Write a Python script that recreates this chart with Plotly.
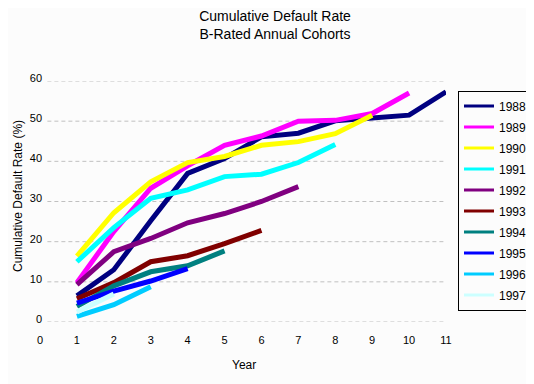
import plotly.graph_objects as go

years = [1, 2, 3, 4, 5, 6, 7, 8, 9, 10, 11]
cohorts = ["1988", "1989", "1990", "1991", "1992", "1993", "1994", "1995", "1996", "1997"]

rate_1988 = [6.5, 13.0, 25.2, 37.0, 40.7, 46.1, 47.0, 50.1, 50.8, 51.5, 57.3]
rate_1989 = [9.8, 22.5, 33.3, 38.9, 44.0, 46.3, 50.0, 50.2, 51.9, 57.0]
rate_1990 = [16.4, 27.2, 34.9, 39.7, 41.2, 44.0, 44.9, 46.9, 51.5]
rate_1991 = [15.0, 23.5, 30.8, 32.9, 36.2, 36.8, 39.7, 44.2]
rate_1992 = [9.3, 17.5, 20.8, 24.7, 27.0, 30.0, 33.7]
rate_1993 = [5.8, 9.8, 15.0, 16.5, 19.5, 22.8]
rate_1994 = [3.9, 9.0, 12.5, 14.0, 17.7]
rate_1995 = [4.7, 7.7, 10.2, 13.3]
rate_1996 = [1.4, 4.3, 8.8]
rate_1997 = [2.5, 7.0]

series = [rate_1988, rate_1989, rate_1990, rate_1991, rate_1992,
          rate_1993, rate_1994, rate_1995, rate_1996, rate_1997]
colors = ["#000080", "#FF00FF", "#FFFF00", "#00FFFF", "#800080",
          "#800000", "#008080", "#0000FF", "#00CCFF", "#CCFFFF"]

x_ticks = list(range(0, 12))
y_ticks = [0, 10, 20, 30, 40, 50, 60]

FONT = "Liberation Sans, Arial, sans-serif"
BG = "#FCFCFC"

fig = go.Figure()
for name, vals, col in zip(cohorts, series, colors):
    fig.add_trace(go.Scatter(
        x=years[:len(vals)], y=vals, mode="lines", name=name,
        line=dict(color=col, width=5), showlegend=False,
    ))
# legend entries with thinner swatches, like the original
for name, col in zip(cohorts, colors):
    fig.add_trace(go.Scatter(
        x=[None], y=[None], mode="lines", name=name,
        line=dict(color=col, width=3), legendgroup=name, showlegend=True,
    ))

# dashed horizontal gridlines (start slightly right of x=0 like the original)
for v in y_ticks:
    fig.add_shape(type="line", xref="x", yref="y", x0=0.2, x1=11, y0=v, y1=v,
                  line=dict(color="#C0C0C0", width=1, dash="4px,3px"), layer="below")

# page is offset by the 8px body margin; work in figure coordinates
OFF = 8
L, R_ = 40 - OFF, 446 - OFF
T, B_ = 80.7 - OFF, 322.3 - OFF
W, H = 534, 384
PW = R_ - L
PH = B_ - T

def px(xp):
    return (xp - OFF - L) / PW

def py(yp):
    return (B_ - (yp - OFF)) / PH

fig.update_layout(
    width=W, height=H,
    margin=dict(l=L, r=W - R_, t=T, b=H - B_, autoexpand=False),
    paper_bgcolor=BG, plot_bgcolor=BG,
    font=dict(family=FONT, color="black", size=11),
    title=dict(text="Cumulative Default Rate<br>B-Rated Annual Cohorts",
               x=0.5, xanchor="center", y=(H - 12.5) / H, yanchor="middle",
               font=dict(size=14, family=FONT, color="black")),
    xaxis=dict(range=[0, 11], tickvals=x_ticks, showgrid=False, zeroline=False,
               showline=False, ticks="outside", ticklen=8,
               tickcolor="rgba(0,0,0,0)", tickfont=dict(size=11)),
    yaxis=dict(range=[0, 60], tickvals=y_ticks, showgrid=False, zeroline=False,
               showline=False, anchor="free", position=0.005,
               ticklabelshift=-3, tickfont=dict(size=11)),
    legend=dict(x=px(458), xanchor="left", y=py(90.3), yanchor="top",
                bordercolor="black", borderwidth=1, bgcolor=BG,
                font=dict(size=12, family=FONT), tracegroupgap=2,
                itemwidth=30),
    showlegend=True,
    annotations=[
        dict(text="Cumulative Default Rate (%)", textangle=-90, xref="paper", yref="paper",
             x=px(18), y=py(196), showarrow=False,
             xanchor="center", yanchor="middle", font=dict(size=12, family=FONT)),
        dict(text="Year", xref="paper", yref="paper",
             x=px(244), y=py(365), showarrow=False,
             xanchor="center", yanchor="middle", font=dict(size=12, family=FONT)),
    ],
)

fig.write_html("out.html")
